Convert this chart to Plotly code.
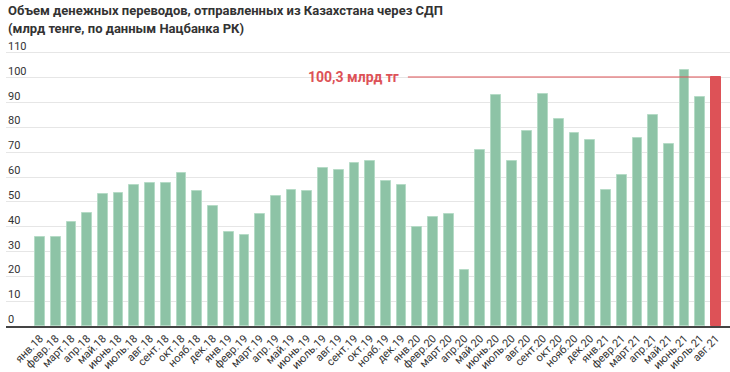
import plotly.graph_objects as go

months = ["янв.18","февр.18","март.18","апр.18","май.18","июнь.18","июль.18","авг.18","сент.18","окт.18","нояб.18","дек.18",
          "янв.19","февр.19","март.19","апр.19","май.19","июнь.19","июль.19","авг.19","сент.19","окт.19","нояб.19","дек.19",
          "янв.20","февр.20","март.20","апр.20","май.20","июнь.20","июль.20","авг.20","сент.20","окт.20","нояб.20","дек.20",
          "янв.21","февр.21","март.21","апр.21","май.21","июнь.21","июль.21","авг.21"]
values = [35.7, 36.0, 41.7, 45.7, 53.0, 53.4, 56.9, 57.7, 57.7, 61.7, 54.4, 48.3,
          37.9, 36.8, 45.3, 52.2, 54.8, 54.3, 63.7, 62.9, 65.6, 66.5, 58.3, 56.7,
          39.7, 44.0, 45.0, 22.4, 70.9, 93.0, 66.3, 78.4, 93.5, 83.3, 77.6, 75.0,
          54.7, 60.7, 75.9, 85.0, 73.3, 103.0, 92.1, 100.3]
y_ticks = [0, 10, 20, 30, 40, 50, 60, 70, 80, 90, 100, 110]
title_lines = ["Объем денежных переводов, отправленных из Казахстана через СДП",
               "(млрд тенге, по данным Нацбанка РК)"]
highlight_label = "100,3 млрд тг"

GREEN = "#8dc3a6"
GREEN_EDGE = "#b5dbc6"
RED = "#dd5257"

idx = list(range(len(months)))
colors = [GREEN] * (len(months) - 1) + [RED]
edges = [GREEN_EDGE] * (len(months) - 1) + [RED]

fig = go.Figure()
fig.add_trace(go.Bar(x=idx, y=values, marker=dict(color=colors, line=dict(color=edges, width=1)),
                     width=0.62, hoverinfo="x+y"))

fig.update_layout(
    width=730, height=372,
    margin=dict(l=6, r=0, t=40, b=44),
    plot_bgcolor="white", paper_bgcolor="white",
    font=dict(family="Roboto", color="#333333", size=11),
    showlegend=False,
    bargap=0,
)
fig.update_xaxes(
    range=[-2.163, 43.89],
    tickmode="array", tickvals=idx, ticktext=months,
    tickangle=-45, tickfont=dict(size=11, color="#333333"),
    showgrid=False, zeroline=False,
    showline=True, linecolor="#444444", linewidth=1.5,
    ticks="", fixedrange=True,
)
fig.update_yaxes(
    range=[0, 115.2],
    tickmode="array", tickvals=y_ticks, showticklabels=False,
    showgrid=True, gridcolor="#e6e6e6", gridwidth=1,
    zeroline=False, fixedrange=True,
)

for t in y_ticks:
    fig.add_annotation(x=0, xref="paper", xanchor="left", y=t, yref="y", yanchor="middle",
                       yshift=6.5, text=str(t), showarrow=False,
                       font=dict(size=11, color="#333333"))

last = len(months) - 1
fig.add_shape(type="line", xref="x", yref="y", x0=23.4, x1=last - 0.31, y0=values[last], y1=values[last],
              line=dict(color=RED, width=1.2))
fig.add_annotation(x=22.95, xref="x", xanchor="right", y=values[last], yref="y", yanchor="middle",
                   text="<b>" + highlight_label + "</b>", showarrow=False,
                   font=dict(size=14, color=RED))

fig.add_annotation(x=0, xref="paper", xanchor="left", y=(328 - 10) / 288, yref="paper", yanchor="middle",
                   text="<b>" + title_lines[0] + "</b>", showarrow=False,
                   font=dict(size=13, color="#333333"))
fig.add_annotation(x=0, xref="paper", xanchor="left", y=(328 - 28) / 288, yref="paper", yanchor="middle",
                   text="<b>" + title_lines[1] + "</b>", showarrow=False,
                   font=dict(size=13, color="#333333"))

fig.write_html("out.html", config={"displayModeBar": False},
               post_script="document.body.style.margin='0';")
